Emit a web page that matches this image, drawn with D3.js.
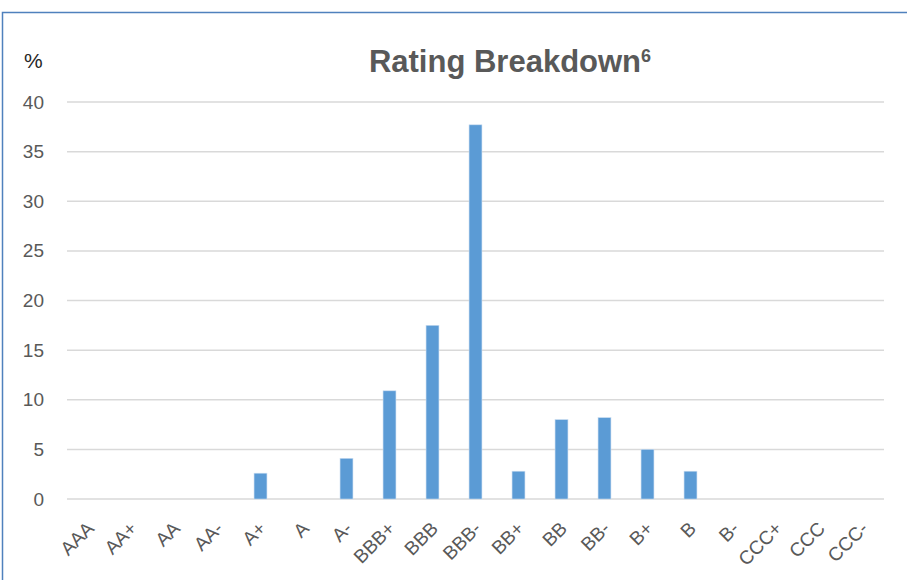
<!DOCTYPE html>
<html>
<head>
<meta charset="utf-8">
<script src="https://cdn.jsdelivr.net/npm/d3@7"></script>
<style>
  body { margin: 0; background: #fff; }
</style>
</head>
<body>
<div class="container"></div>
<script>
var w = 907;
var h = 580;

var ratings = ["AAA", "AA+", "AA", "AA-", "A+", "A", "A-", "BBB+", "BBB", "BBB-",
  "BB+", "BB", "BB-", "B+", "B", "B-", "CCC+", "CCC", "CCC-"];
var percents = [0, 0, 0, 0, 2.6, 0, 4.1, 10.9, 17.5, 37.7,
  2.8, 8.0, 8.2, 5.0, 2.8, 0, 0, 0, 0];
var yTicks = [0, 5, 10, 15, 20, 25, 30, 35, 40];

var Graphic = d3.select('.container')
  .append('svg')
  .attr('width', w)
  .attr('height', h)
  .style('display', 'block');

// outer frame (runs off the right and bottom edges)
Graphic.append('rect')
  .attr('x', 2.5)
  .attr('y', 12.5)
  .attr('width', 1000)
  .attr('height', 1000)
  .style('fill', 'none')
  .style('stroke', '#4f81bd')
  .style('stroke-width', 1.5);

var xScale = d3.scaleBand()
  .domain(ratings)
  .range([67, 884])
  .paddingInner(0.7)
  .paddingOuter(0.35);

var yScale = d3.scaleLinear()
  .domain([0, 40])
  .range([499, 102]);

// gridlines
Graphic.append('g')
  .selectAll('line')
  .data(yTicks)
  .enter()
  .append('line')
  .attr('x1', 67)
  .attr('x2', 884)
  .attr('y1', d => yScale(d))
  .attr('y2', d => yScale(d))
  .style('stroke', '#d9d9d9')
  .style('stroke-width', 1.5);

var yAxis = d3.axisLeft(yScale)
  .tickValues(yTicks)
  .tickSize(0)
  .tickPadding(0);

var yAxisGroup = Graphic.append('g')
  .attr('transform', 'translate(44, 0)')
  .call(yAxis);
yAxisGroup.select('.domain').remove();
yAxisGroup.selectAll('text')
  .style('font-family', 'Liberation Sans, Arial, sans-serif')
  .style('font-size', '19px')
  .style('fill', '#595959');

// bars
Graphic.selectAll('.bar')
  .data(percents)
  .enter()
  .append('rect')
  .attr('class', 'bar')
  .attr('x', (d, i) => xScale(ratings[i]))
  .attr('y', d => yScale(d))
  .attr('width', xScale.bandwidth())
  .attr('height', d => yScale(0) - yScale(d))
  .style('fill', '#5b9bd5')
  .style('stroke', '#c9dcf0')
  .style('stroke-width', 0.6);

// x labels
Graphic.append('g')
  .selectAll('text')
  .data(ratings)
  .enter()
  .append('text')
  .attr('transform', d => 'translate(' + (xScale(d) + xScale.bandwidth() / 2 - 3) + ',520) rotate(-45)')
  .attr('text-anchor', 'end')
  .attr('dy', '0.72em')
  .style('font-family', 'Liberation Sans, Arial, sans-serif')
  .style('font-size', '19px')
  .style('fill', '#595959')
  .text(d => d);

// title
var title = Graphic.append('text')
  .attr('x', 510)
  .attr('y', 72)
  .attr('text-anchor', 'middle')
  .style('font-family', 'Liberation Sans, Arial, sans-serif')
  .style('font-size', '31px')
  .style('font-weight', 'bold')
  .style('fill', '#595959');
title.append('tspan').text('Rating Breakdown');
title.append('tspan')
  .attr('dy', '-0.55em')
  .style('font-size', '18px')
  .text('6');

Graphic.append('text')
  .attr('x', 24)
  .attr('y', 68)
  .style('font-family', 'Liberation Sans, Arial, sans-serif')
  .style('font-size', '21px')
  .style('fill', '#262626')
  .text('%');
</script>
</body>
</html>
